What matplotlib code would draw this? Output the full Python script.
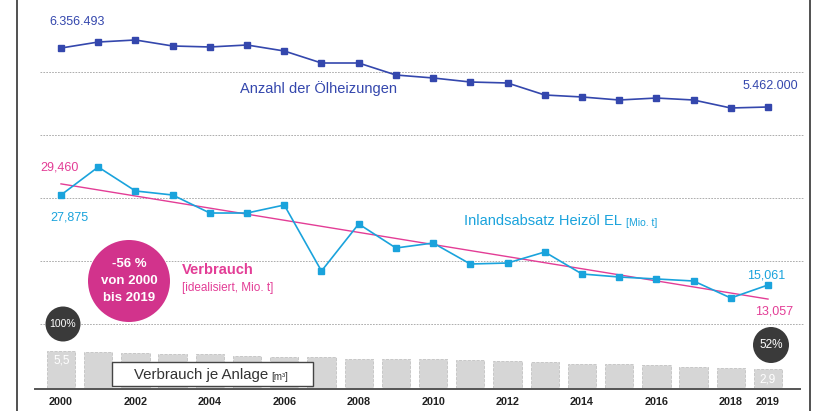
"""
Ölheizungen, Heizöl-Absatz und Verbrauch je Anlage 2000-2019
"""
import matplotlib
matplotlib.use("Agg")
import matplotlib.pyplot as plt
from matplotlib.patches import Ellipse, Rectangle
from matplotlib.text import Annotation

plt.rcParams['font.family'] = ['Liberation Sans', 'DejaVu Sans']

years = list(range(2000, 2020))
tick_years = [2000, 2002, 2004, 2006, 2008, 2010, 2012, 2014, 2016, 2018, 2019]

# Anzahl der Ölheizungen [Mio.]
heizungen = [6.356, 6.447, 6.478, 6.387, 6.372, 6.402, 6.311, 6.129, 6.129, 5.947,
             5.902, 5.841, 5.826, 5.644, 5.614, 5.568, 5.598, 5.568, 5.447, 5.462]

# Inlandsabsatz Heizöl EL [Mio. t]
absatz = [27.875, 31.86, 28.45, 27.875, 25.31, 25.31, 26.45, 17.05, 23.75, 20.33,
          21.04, 18.05, 18.19, 19.76, 16.63, 16.20, 15.92, 15.63, 13.21, 15.061]

# Verbrauch idealisiert (Trend)
trend_years = [2000, 2019]
trend_vals = [29.460, 13.057]

# Verbrauch je Anlage [m3]
je_anlage = [5.5, 5.4, 5.2, 5.1, 5.1, 4.8, 4.6, 4.6, 4.35, 4.35,
             4.35, 4.2, 4.06, 3.9, 3.6, 3.6, 3.5, 3.2, 3.05, 2.9]

BLUE = '#3447ad'
CYAN = '#1aa3dc'
PINK = '#e33d96'
MAGENTA = '#d2338c'
DARK = '#3a3a3a'
W, H = 820, 411


def fx(px):
    return px / W


def fy(py):
    return 1 - py / H


fig = plt.figure(figsize=(8.2, 4.11), dpi=100)
ax = fig.add_axes([fx(40), fy(389), 764 / W, 389 / H])
ax2 = ax.twinx()
ax3 = ax.twinx()

# bars
ax.bar(years, je_anlage, width=0.76, color='#d6d6d6', edgecolor='#c2c2c2',
       linewidth=0.6, linestyle='--', zorder=2)
ax.set_xlim(1999.436, 2019.967)
ax.set_ylim(0, 56.4)
ax.set_yticks([])
for s in ax.spines.values():
    s.set_visible(False)
ax.set_xticks(tick_years)
ax.set_xticklabels([str(y) for y in tick_years], fontsize=7.8, fontweight='bold', color='#222222')
ax.tick_params(axis='x', length=0, pad=6)

# dashed grid lines
for gy in [72, 135, 198, 261, 324]:
    frac = (389 - gy) / 389
    ax.plot([0, 1], [frac, frac], transform=ax.transAxes, color='#a0a0a0',
            lw=0.6, ls=(0, (2, 1.5)), zorder=1, clip_on=False)
# baseline
ax.plot([-5 / 764, 760 / 764], [0, 0], transform=ax.transAxes, color='#555555',
        lw=1.4, zorder=3, clip_on=False)

# Ölheizungen
ax2.plot(years, heizungen, color=BLUE, lw=1.2, marker='s', markersize=5, zorder=4)
ax2.set_ylim(1.1866, 7.0842)

# Heizöl-Absatz + Trend
ax3.plot(trend_years, trend_vals, color=PINK, lw=1.0, zorder=4)
ax3.plot(years, absatz, color=CYAN, lw=1.2, marker='s', markersize=5, zorder=5)
ax3.set_ylim(0.253, 55.64)

for a in (ax2, ax3):
    a.set_yticks([])
    for s in a.spines.values():
        s.set_visible(False)

# frame lines of the scan
fig.add_artist(plt.Line2D([fx(17), fx(17)], [0, 1], color='#333333', lw=1.2))
fig.add_artist(plt.Line2D([fx(810), fx(810)], [0, 1], color='#333333', lw=1.2))

# labels
fig.text(fx(49), fy(22), '6.356.493', color=BLUE, fontsize=9, va='center')
fig.text(fx(240), fy(89), 'Anzahl der Ölheizungen', color=BLUE, fontsize=10.5, va='center')
fig.text(fx(743), fy(86), '5.462.000', color=BLUE, fontsize=9, va='center')

fig.text(fx(40), fy(167), '29,460', color=PINK, fontsize=9, va='center')
fig.text(fx(50), fy(217), '27,875', color=CYAN, fontsize=9, va='center')
t_abs = fig.text(fx(464), fy(225), 'Inlandsabsatz Heizöl EL', color=CYAN, fontsize=10.5,
                 va='baseline')
fig.add_artist(Annotation('[Mio. t]', xy=(1, 0), xycoords=t_abs, xytext=(3, 0),
                          textcoords='offset points', color=CYAN, fontsize=7.5,
                          va='bottom', zorder=4))
fig.text(fx(747), fy(275), '15,061', color=CYAN, fontsize=9, va='center')
fig.text(fx(755), fy(312), '13,057', color=PINK, fontsize=9, va='center')

# magenta circle
fig.add_artist(Ellipse((fx(129), fy(281)), 82 / W, 82 / H, transform=fig.transFigure,
                       facecolor=MAGENTA, edgecolor='none'))
for txt, py in [('-56 %', 264), ('von 2000', 281), ('bis 2019', 298)]:
    fig.text(fx(129), fy(py), txt, color='white', fontsize=9.5, fontweight='bold',
             ha='center', va='center')
fig.text(fx(182), fy(270), 'Verbrauch', color=PINK, fontsize=10.5, fontweight='bold', va='center')
fig.text(fx(182), fy(288), '[idealisiert, Mio. t]', color=PINK, fontsize=8.5, va='center')

# dark circles
fig.add_artist(Ellipse((fx(63), fy(324)), 35 / W, 35 / H, transform=fig.transFigure,
                       facecolor=DARK, edgecolor='none'))
fig.text(fx(63), fy(324), '100%', color='white', fontsize=7.5, ha='center', va='center')
fig.add_artist(Ellipse((fx(771), fy(345)), 36 / W, 36 / H, transform=fig.transFigure,
                       facecolor=DARK, edgecolor='none'))
fig.text(fx(771), fy(345), '52%', color='white', fontsize=8.5, ha='center', va='center')

fig.text(fx(62), fy(360), '5,5', color='white', fontsize=8.5, ha='center', va='center')
fig.text(fx(768), fy(379), '2,9', color='white', fontsize=8.5, ha='center', va='center')

# box label
fig.add_artist(Rectangle((fx(112), fy(386)), 201 / W, 24 / H, transform=fig.transFigure,
                         facecolor='white', edgecolor='#444444', lw=1))
t_box = fig.text(fx(134), fy(379), 'Verbrauch je Anlage', color='#333333', fontsize=10.8,
                 va='baseline')
fig.add_artist(Annotation('[m³]', xy=(1, 0), xycoords=t_box, xytext=(2, 0),
                          textcoords='offset points', color='#333333', fontsize=7,
                          va='bottom', zorder=4))

fig.savefig('out.png', dpi=100)
